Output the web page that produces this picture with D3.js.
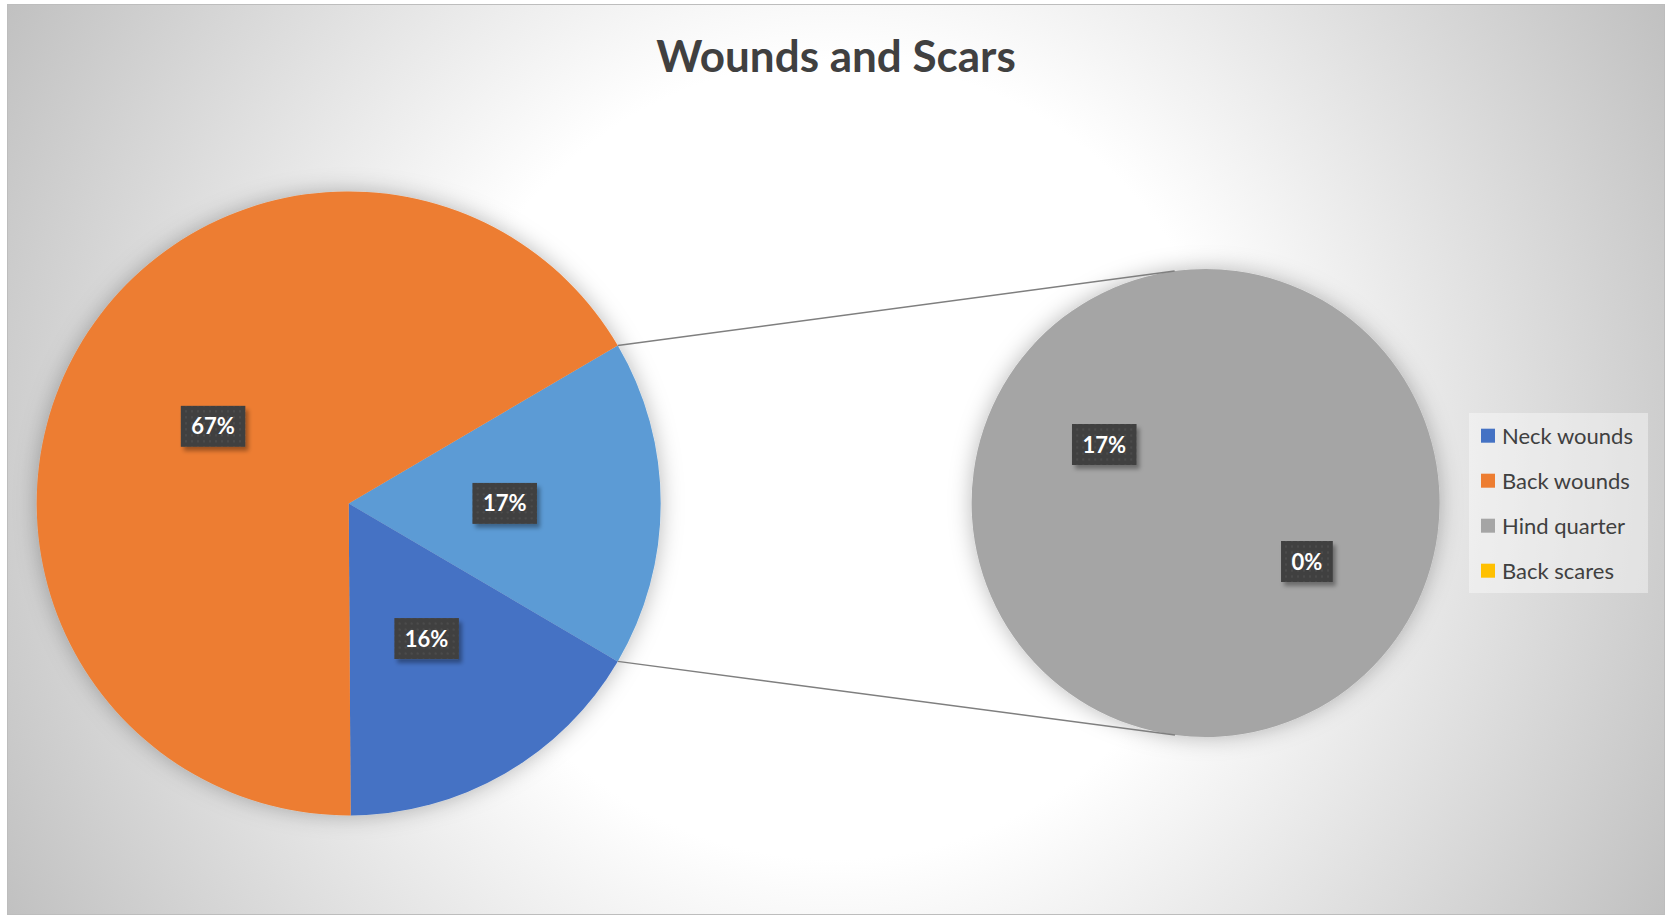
<!DOCTYPE html>
<html>
<head>
<meta charset="utf-8">
<script src="https://cdn.jsdelivr.net/npm/d3@7"></script>
<style>
    body { margin: 0; background: #fff; }
    .main { width: 1667px; height: 915px; }
</style>
</head>
<body>
<div class="main"></div>
<script>
var categories = ['Neck wounds', 'Back wounds', 'Hind quarter', 'Back scares'];
var values = [16.45, 66.65, 16.9, 0];
// the last two categories are split off into the second pie
var secondaryCount = 2;
var otherLabel = 'Other';
var title = 'Wounds and Scars';

var palette = ['#4472C4', '#ED7D31', '#A5A5A5', '#FFC000'];
var otherColor = '#5B9BD5';

var options = {
    'width': 1667,
    'height': 915,
};

var container = d3.select('.main');

var svg = container
    .append('svg')
    .attr('width', options.width)
    .attr('height', options.height)
    .style('font-family', 'Lato, "Open Sans", sans-serif');

var defs = svg.append('defs');

var bg = defs.append('radialGradient')
    .attr('id', 'bg-grad')
    .attr('gradientUnits', 'userSpaceOnUse')
    .attr('cx', 835)
    .attr('cy', 460)
    .attr('r', 950);
bg.append('stop').attr('offset', 0).attr('stop-color', '#ffffff');
bg.append('stop').attr('offset', 0.42).attr('stop-color', '#ffffff');
bg.append('stop').attr('offset', 1).attr('stop-color', '#c0c0c0');

var halo = defs.append('filter')
    .attr('id', 'halo')
    .attr('x', '-20%')
    .attr('y', '-20%')
    .attr('width', '140%')
    .attr('height', '140%');
halo.append('feDropShadow')
    .attr('dx', 0)
    .attr('dy', 0)
    .attr('stdDeviation', 11)
    .attr('flood-color', '#000')
    .attr('flood-opacity', 0.28);

var boxShadow = defs.append('filter')
    .attr('id', 'box-shadow')
    .attr('x', '-30%')
    .attr('y', '-30%')
    .attr('width', '160%')
    .attr('height', '160%');
boxShadow.append('feDropShadow')
    .attr('dx', 3)
    .attr('dy', 4)
    .attr('stdDeviation', 2)
    .attr('flood-color', '#000')
    .attr('flood-opacity', 0.35);

var dots = defs.append('pattern')
    .attr('id', 'dots')
    .attr('patternUnits', 'userSpaceOnUse')
    .attr('width', 6)
    .attr('height', 6);
dots.append('rect')
    .attr('width', 6)
    .attr('height', 6)
    .style('fill', '#404040');
dots.append('rect')
    .attr('x', 2)
    .attr('y', 2)
    .attr('width', 2)
    .attr('height', 2)
    .style('fill', '#4c4c4c');

// chart area
svg.append('rect')
    .attr('x', 7.5)
    .attr('y', 4.5)
    .attr('width', 1657)
    .attr('height', 910)
    .style('fill', 'url(#bg-grad)')
    .style('stroke', '#bdbdbd')
    .style('stroke-width', 1);

svg.append('text')
    .text(title)
    .attr('x', 836)
    .attr('y', 72)
    .attr('text-anchor', 'middle')
    .style('font-size', '44px')
    .style('font-weight', 'bold')
    .style('fill', '#404040');

var total = d3.sum(values);
var pct = d3.format('.0%');

var mainCenter = [348.7, 503.4];
var mainR = 312;
var subCenter = [1205.6, 503];
var subR = 234;

var splitAt = categories.length - secondaryCount;
var mainData = [{ name: otherLabel, value: d3.sum(values.slice(splitAt)), color: otherColor }];
categories.slice(0, splitAt).forEach(function (c, i) {
    mainData.push({ name: c, value: values[i], color: palette[i] });
});
var subData = categories.slice(splitAt).map(function (c, i) {
    return { name: c, value: values[splitAt + i], color: palette[splitAt + i] };
});

// "Other" slice is centred facing the second pie
var otherAngle = 2 * Math.PI * mainData[0].value / total;
var mainStart = Math.PI / 2 - otherAngle / 2;

var mainPie = d3.pie()
    .sort(null)
    .value(function (d) { return d.value; })
    .startAngle(mainStart)
    .endAngle(mainStart + 2 * Math.PI);

var subPie = d3.pie()
    .sort(null)
    .value(function (d) { return d.value; })
    .startAngle(2 * Math.PI / 3)
    .endAngle(2 * Math.PI / 3 + 2 * Math.PI);

var mainArc = d3.arc().innerRadius(0).outerRadius(mainR);
var subArc = d3.arc().innerRadius(0).outerRadius(subR);

var mainArcs = mainPie(mainData);
var subArcs = subPie(subData);

var g_main = svg.append('g')
    .attr('transform', 'translate(' + mainCenter + ')');
var g_sub = svg.append('g')
    .attr('transform', 'translate(' + subCenter + ')');

g_main.append('g')
    .attr('filter', 'url(#halo)')
    .selectAll('path')
    .data(mainArcs)
    .enter()
    .append('path')
    .attr('d', mainArc)
    .style('fill', function (d) { return d.data.color; });

g_sub.append('g')
    .attr('filter', 'url(#halo)')
    .selectAll('path')
    .data(subArcs)
    .enter()
    .append('path')
    .attr('d', subArc)
    .style('fill', function (d) { return d.data.color; });

// connector lines, tangent to the second pie
function tangentPoint(p, c, r, side) {
    var dx = p[0] - c[0];
    var dy = p[1] - c[1];
    var d = Math.sqrt(dx * dx + dy * dy);
    var base = Math.atan2(dy, dx);
    var a = base + side * Math.acos(r / d);
    return [c[0] + r * Math.cos(a), c[1] + r * Math.sin(a)];
}

var other = mainArcs[0];
[other.startAngle, other.endAngle].forEach(function (ang, i) {
    var p = [mainCenter[0] + mainR * Math.sin(ang), mainCenter[1] - mainR * Math.cos(ang)];
    var t = tangentPoint(p, subCenter, subR, i === 0 ? 1 : -1);
    if ((i === 0 && t[1] > subCenter[1]) || (i === 1 && t[1] < subCenter[1])) {
        t = tangentPoint(p, subCenter, subR, i === 0 ? -1 : 1);
    }
    svg.append('line')
        .attr('x1', p[0])
        .attr('y1', p[1])
        .attr('x2', t[0])
        .attr('y2', t[1])
        .style('stroke', '#7f7f7f')
        .style('stroke-width', '1.5px');
});

function addLabels(g, arcs, arc) {
    var labels = g.selectAll('.label')
        .data(arcs)
        .enter()
        .append('g')
        .attr('class', 'label')
        .attr('transform', function (d) {
            return 'translate(' + arc.centroid(d) + ')';
        });

    var box = labels.append('rect')
        .attr('filter', 'url(#box-shadow)')
        .style('fill', 'url(#dots)');

    labels.append('text')
        .text(function (d) { return pct(d.data.value / total); })
        .attr('text-anchor', 'middle')
        .attr('y', 8)
        .style('font-size', '22px')
        .style('font-weight', 'bold')
        .style('fill', '#fff');

    box.each(function () {
        var w = this.parentNode.querySelector('text').getComputedTextLength() + 21;
        d3.select(this)
            .attr('x', -w / 2)
            .attr('y', -20.5)
            .attr('width', w)
            .attr('height', 41);
    });
}

addLabels(g_main, mainArcs, mainArc);
addLabels(g_sub, subArcs, subArc);

// legend
var g_legend = svg.append('g')
    .attr('transform', 'translate(' + [1469, 413] + ')');

g_legend.append('rect')
    .attr('width', 179)
    .attr('height', 180)
    .style('fill', '#fff')
    .style('fill-opacity', 0.4);

var items = g_legend.selectAll('.item')
    .data(categories)
    .enter()
    .append('g')
    .attr('class', 'item')
    .attr('transform', function (d, i) {
        return 'translate(' + [12, 22.7 + i * 45] + ')';
    });

items.append('rect')
    .attr('x', 0)
    .attr('y', -7)
    .attr('width', 14)
    .attr('height', 14)
    .style('fill', function (d, i) { return palette[i]; });

items.append('text')
    .text(function (d) { return d; })
    .attr('x', 21)
    .attr('y', 8)
    .style('font-size', '22px')
    .style('fill', '#404040');
</script>
</body>
</html>
